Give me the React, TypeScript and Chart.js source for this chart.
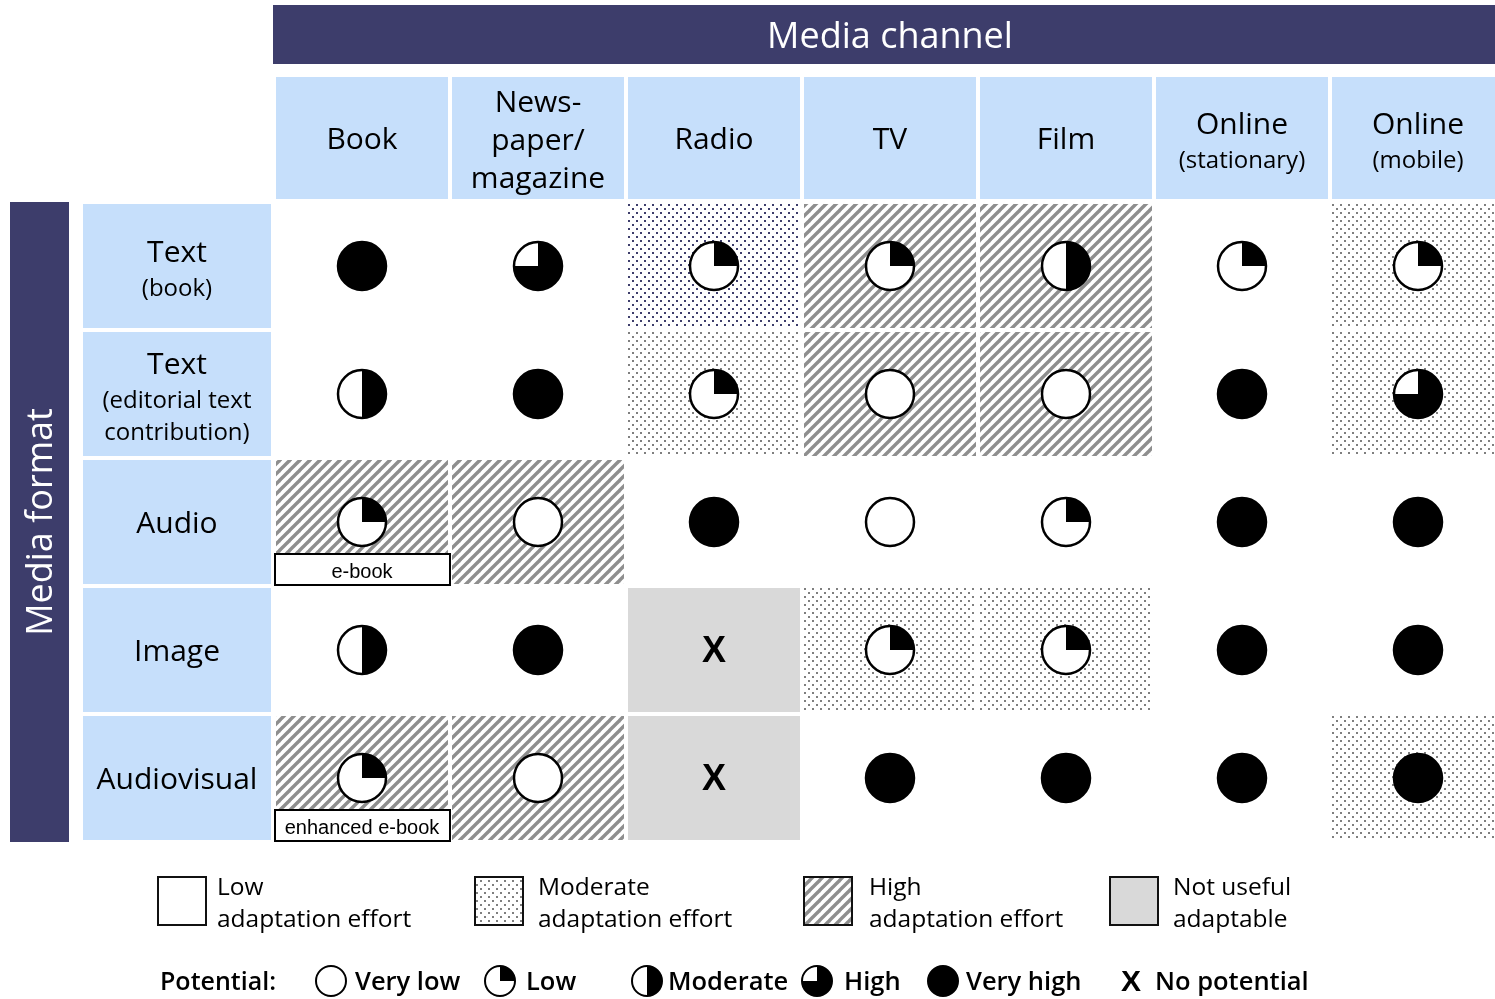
import React, { useEffect, useRef } from "react";
import { Chart, registerables } from "chart.js";

Chart.register(...registerables);

// ---------- data ----------
const channels = ["Book", "News-\npaper/\nmagazine", "Radio", "TV", "Film", "Online\n(stationary)", "Online\n(mobile)"];
const formats = ["Text\n(book)", "Text\n(editorial text\ncontribution)", "Audio", "Image", "Audiovisual"];

// potential: 0 very low, 1 low, 2 moderate, 3 high, 4 very high, -1 no potential
const potentialTextBook = [4, 3, 1, 1, 2, 1, 1];
const potentialTextEditorial = [2, 4, 1, 0, 0, 4, 3];
const potentialAudio = [1, 0, 4, 0, 1, 4, 4];
const potentialImage = [2, 4, -1, 1, 1, 4, 4];
const potentialAudiovisual = [1, 0, -1, 4, 4, 4, 4];

// adaptation effort: low / moderate / moderateDark / high / none (not useful adaptable)
const effortTextBook = ["low", "low", "moderateDark", "high", "high", "low", "moderate"];
const effortTextEditorial = ["low", "low", "moderate", "high", "high", "low", "moderate"];
const effortAudio = ["high", "high", "low", "low", "low", "low", "low"];
const effortImage = ["low", "low", "none", "moderate", "moderate", "low", "low"];
const effortAudiovisual = ["high", "high", "none", "low", "low", "low", "moderate"];

const potentialRows = [potentialTextBook, potentialTextEditorial, potentialAudio, potentialImage, potentialAudiovisual];
const effortRows = [effortTextBook, effortTextEditorial, effortAudio, effortImage, effortAudiovisual];

const noteRows = [2, 4];
const noteCols = [0, 0];
const noteTexts = ["e-book", "enhanced e-book"];

const effortLegendKeys = ["low", "moderate", "high", "none"];
const effortLegendLine1 = ["Low", "Moderate", "High", "Not useful"];
const effortLegendLine2 = ["adaptation effort", "adaptation effort", "adaptation effort", "adaptable"];

const potentialLegendLevels = [0, 1, 2, 3, 4, -1];
const potentialLegendLabels = ["Very low", "Low", "Moderate", "High", "Very high", "No potential"];

const titleTop = "Media channel";
const titleSide = "Media format";
const potentialTitle = "Potential:";

// ---------- styling ----------
const NAVY = "#3d3d6b";
const LIGHT = "#c6dffb";
const GREY_FILL = "#d9d9d9";
const FONT = "'Open Sans', 'Noto Sans', sans-serif";
const ARIAL = "'Liberation Sans', Arial, sans-serif";
const TY = 2; // text vertical nudge

function makeDots(color: string) {
  const c = document.createElement("canvas");
  c.width = 8;
  c.height = 8;
  const g = c.getContext("2d")!;
  g.fillStyle = "#ffffff";
  g.fillRect(0, 0, 8, 8);
  g.fillStyle = color;
  g.fillRect(0, 0, 2, 2);
  g.fillRect(4, 4, 2, 2);
  return c;
}

function makeStripes() {
  const c = document.createElement("canvas");
  c.width = 10;
  c.height = 10;
  const g = c.getContext("2d")!;
  g.fillStyle = "#ffffff";
  g.fillRect(0, 0, 10, 10);
  g.strokeStyle = "#8e8e8e";
  g.lineWidth = 3.4;
  for (const k of [-10, 0, 10]) {
    g.beginPath();
    g.moveTo(k - 1, 11);
    g.lineTo(k + 11, -1);
    g.stroke();
  }
  return c;
}

function drawBall(ctx: CanvasRenderingContext2D, x: number, y: number, r: number, level: number, lw: number, xFont: string) {
  if (level < 0) {
    ctx.save();
    ctx.fillStyle = "#000";
    ctx.font = xFont;
    ctx.textAlign = "center";
    ctx.textBaseline = "middle";
    ctx.fillText("X", x, y + 2);
    ctx.restore();
    return;
  }
  ctx.save();
  ctx.beginPath();
  ctx.arc(x, y, r, 0, Math.PI * 2);
  ctx.fillStyle = "#fff";
  ctx.fill();
  if (level > 0) {
    ctx.beginPath();
    if (level >= 4) {
      ctx.arc(x, y, r, 0, Math.PI * 2);
    } else {
      ctx.moveTo(x, y);
      ctx.arc(x, y, r, -Math.PI / 2, -Math.PI / 2 + (level * Math.PI) / 2);
      ctx.closePath();
    }
    ctx.fillStyle = "#000";
    ctx.fill();
  }
  ctx.beginPath();
  ctx.arc(x, y, r, 0, Math.PI * 2);
  ctx.lineWidth = lw;
  ctx.strokeStyle = "#000";
  ctx.stroke();
  ctx.restore();
}

function drawHeaderText(ctx: CanvasRenderingContext2D, text: string, cx: number, cy: number, allBig: boolean) {
  const lines = text.split("\n");
  ctx.save();
  ctx.fillStyle = "#000";
  ctx.textAlign = "center";
  ctx.textBaseline = "middle";
  if (allBig) {
    const gap = 38;
    const span = gap * (lines.length - 1);
    lines.forEach((l, i) => {
      ctx.font = `30px ${FONT}`;
      ctx.fillText(l, cx, cy - span / 2 + i * gap + 1 + TY);
    });
  } else {
    const ys: number[] = [0];
    for (let i = 1; i < lines.length; i++) ys.push(ys[i - 1] + (i === 1 ? 36 : 32));
    const span = ys[ys.length - 1];
    lines.forEach((l, i) => {
      ctx.font = i === 0 ? `30px ${FONT}` : `24px ${FONT}`;
      ctx.fillText(l, cx, cy - span / 2 + ys[i] + (lines.length > 1 ? 3 : 0) + TY);
    });
  }
  ctx.restore();
}

export default function App() {
  const ref = useRef<HTMLCanvasElement | null>(null);

  useEffect(() => {
    document.body.style.margin = "0";
    const canvas = ref.current;
    if (!canvas) return;

    const dotsGrey = makeDots("#7f7f7f");
    const dotsNavy = makeDots(NAVY);
    const stripes = makeStripes();

    const points: { x: number; y: number; level: number }[] = [];
    potentialRows.forEach((row, r) => row.forEach((lv, c) => points.push({ x: c, y: r, level: lv })));

    const matrixPlugin = {
      id: "matrix",
      beforeDatasetsDraw(chart: any) {
        const ctx: CanvasRenderingContext2D = chart.ctx;
        const xs = chart.scales.x;
        const ys = chart.scales.y;
        const pGrey = ctx.createPattern(dotsGrey, "repeat")!;
        const pNavy = ctx.createPattern(dotsNavy, "repeat")!;
        const pStripe = ctx.createPattern(stripes, "repeat")!;
        const fillFor = (k: string): any =>
          k === "moderate" ? pGrey : k === "moderateDark" ? pNavy : k === "high" ? pStripe : k === "none" ? GREY_FILL : null;

        ctx.save();
        // Title bar
        const firstLeft = xs.getPixelForValue(0) - 89;
        ctx.fillStyle = NAVY;
        ctx.fillRect(firstLeft, 5, chart.width - firstLeft, 59);
        ctx.fillStyle = "#fff";
        ctx.font = `36px ${FONT}`;
        ctx.textAlign = "center";
        ctx.textBaseline = "middle";
        ctx.fillText(titleTop, 890, 38);

        // side bar
        const topRow = ys.getPixelForValue(0) - 64;
        const botRow = ys.getPixelForValue(formats.length - 1) + 64;
        ctx.fillStyle = NAVY;
        ctx.fillRect(10, topRow, 59, botRow - topRow);
        ctx.save();
        ctx.translate(42, (topRow + botRow) / 2);
        ctx.rotate(-Math.PI / 2);
        ctx.fillStyle = "#fff";
        ctx.font = `36px ${FONT}`;
        ctx.fillText(titleSide, 0, 0);
        ctx.restore();

        // column headers
        const hy = ys.getPixelForValue(-1);
        channels.forEach((ch, c) => {
          const cx = xs.getPixelForValue(c);
          ctx.fillStyle = LIGHT;
          ctx.fillRect(cx - 86, hy - 61, 172, 122);
          drawHeaderText(ctx, ch, cx, hy, ch.split("\n").length === 3);
        });

        // row headers
        formats.forEach((f, r) => {
          const cy = ys.getPixelForValue(r);
          ctx.fillStyle = LIGHT;
          ctx.fillRect(83, cy - 62, 188, 124);
          drawHeaderText(ctx, f, 177, cy, false);
        });

        // cells
        effortRows.forEach((row, r) => {
          const cy = ys.getPixelForValue(r);
          row.forEach((k, c) => {
            const cx = xs.getPixelForValue(c);
            const f = fillFor(k);
            if (f) {
              ctx.fillStyle = f;
              ctx.fillRect(cx - 86, cy - 62, 172, 124);
            }
          });
        });

        // legend (effort)
        const lx = [158, 475, 804, 1110];
        const tx = [217, 538, 869, 1173];
        effortLegendKeys.forEach((k, i) => {
          const f = fillFor(k);
          ctx.fillStyle = f || "#fff";
          ctx.fillRect(lx[i], 877, 48, 48);
          ctx.lineWidth = 2;
          ctx.strokeStyle = "#111";
          ctx.strokeRect(lx[i], 877, 48, 48);
          ctx.fillStyle = "#000";
          ctx.font = `24.5px ${FONT}`;
          ctx.textAlign = "left";
          ctx.textBaseline = "middle";
          ctx.fillText(effortLegendLine1[i], tx[i], 886 + TY);
          ctx.fillText(effortLegendLine2[i], tx[i], 918 + TY);
        });

        // legend (potential)
        ctx.fillStyle = "#000";
        ctx.font = `600 25px ${FONT}`;
        ctx.textAlign = "left";
        ctx.textBaseline = "middle";
        ctx.fillText(potentialTitle, 160, 981 + TY);
        const bx = [331, 500, 647, 817, 943, 1131];
        const btx = [355, 526, 668, 844, 966, 1155];
        potentialLegendLevels.forEach((lv, i) => {
          drawBall(ctx, bx[i], 981, 15, lv, 2, `bold 30px ${ARIAL}`);
          ctx.fillStyle = "#000";
          ctx.font = `600 25.5px ${FONT}`;
          ctx.textAlign = "left";
          ctx.textBaseline = "middle";
          ctx.fillText(potentialLegendLabels[i], btx[i], 981 + TY);
        });
        ctx.restore();
      },
      afterDatasetsDraw(chart: any) {
        const ctx: CanvasRenderingContext2D = chart.ctx;
        const xs = chart.scales.x;
        const ys = chart.scales.y;
        const meta = chart.getDatasetMeta(0);
        const data = chart.data.datasets[0].data as any[];
        meta.data.forEach((el: any, i: number) => {
          drawBall(ctx, el.x, el.y, 24, data[i].level, 2.5, `bold 36px ${ARIAL}`);
        });
        // notes
        noteTexts.forEach((t, i) => {
          const cx = xs.getPixelForValue(noteCols[i]);
          const cy = ys.getPixelForValue(noteRows[i]);
          ctx.save();
          ctx.fillStyle = "#fff";
          ctx.fillRect(cx - 87, cy + 32, 175, 31);
          ctx.lineWidth = 2;
          ctx.strokeStyle = "#000";
          ctx.strokeRect(cx - 87, cy + 32, 175, 31);
          ctx.fillStyle = "#000";
          ctx.font = `20px ${ARIAL}`;
          ctx.textAlign = "center";
          ctx.textBaseline = "middle";
          ctx.fillText(t, cx, cy + 50);
          ctx.restore();
        });
      },
    };

    const W = 1495;
    const H = 999;
    const colPitch = 176;
    const rowPitch = 128;
    const xMin = -362 / colPitch;
    const yMin = -266 / rowPitch;

    const chart = new Chart(canvas, {
      type: "scatter",
      data: {
        datasets: [
          {
            data: points as any,
            pointRadius: 0,
            pointHoverRadius: 0,
          },
        ],
      },
      options: {
        animation: false,
        responsive: false,
        events: [],
        layout: { padding: 0 },
        plugins: { legend: { display: false }, tooltip: { enabled: false } },
        scales: {
          x: { type: "linear", display: false, min: xMin, max: xMin + W / colPitch },
          y: { type: "linear", display: false, reverse: true, min: yMin, max: yMin + H / rowPitch },
        },
      },
      plugins: [matrixPlugin],
    });
    return () => chart.destroy();
  }, []);

  return (
    <div style={{ position: "absolute", left: 0, top: 0, width: 1495, height: 999, background: "#fff" }}>
      <canvas ref={ref} width={1495} height={999} style={{ display: "block" }} />
    </div>
  );
}
